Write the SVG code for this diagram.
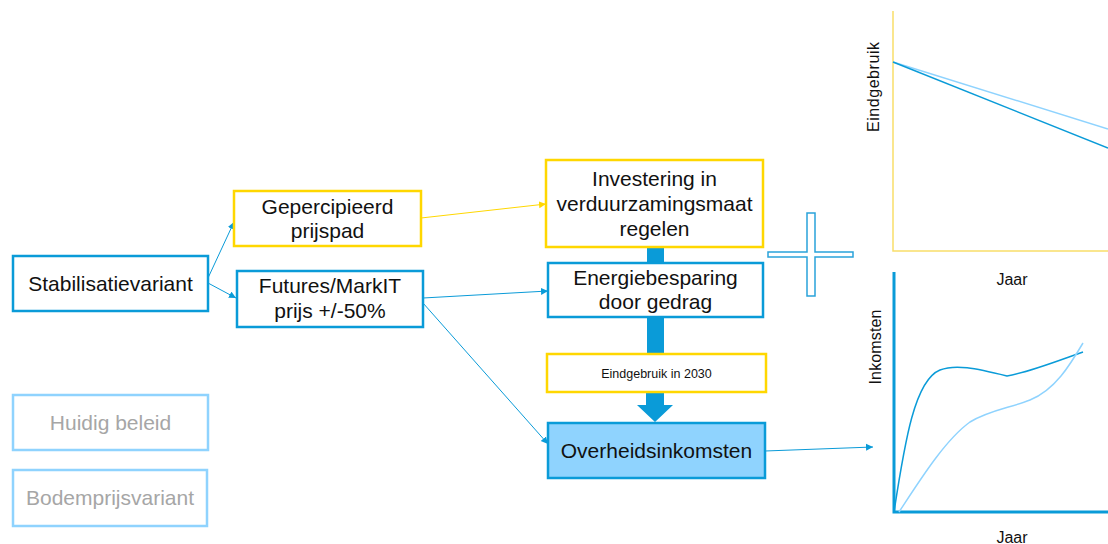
<svg xmlns="http://www.w3.org/2000/svg" width="1108" height="544" viewBox="0 0 1108 544">
<style>
text{font-family:"Liberation Sans",Arial,sans-serif;fill:#111;text-anchor:middle}
.t{font-size:21px}
.g{font-size:21px;fill:#a6a6a6}
.s{font-size:12.5px}
.c{font-size:16px}
.bb{fill:#fff;stroke:#0a9bd8;stroke-width:2.5}
.yb{fill:#fff;stroke:#ffd700;stroke-width:2.5}
.lb{fill:#fff;stroke:#8fd3fe;stroke-width:2.5}
.ln{fill:none;stroke:#0a9bd8;stroke-width:1}
.ly{fill:none;stroke:#ffd700;stroke-width:1}
</style>
<defs>
<marker id="ab" markerWidth="8" markerHeight="8" refX="7" refY="4" orient="auto" markerUnits="userSpaceOnUse"><path d="M0,0.5 L7,4 L0,7.5 Z" fill="#0a9bd8"/></marker>
<marker id="ay" markerWidth="8" markerHeight="8" refX="7" refY="4" orient="auto" markerUnits="userSpaceOnUse"><path d="M0,0.5 L7,4 L0,7.5 Z" fill="#ffd700"/></marker>
</defs>

<g id="connectors">
<line class="ln" x1="208" y1="278" x2="234" y2="222" marker-end="url(#ab)"/>
<line class="ln" x1="208" y1="283" x2="236" y2="298" marker-end="url(#ab)"/>
<line class="ly" x1="421" y1="218" x2="546" y2="204" marker-end="url(#ay)"/>
<line class="ln" x1="423" y1="298" x2="548" y2="291" marker-end="url(#ab)"/>
<line class="ln" x1="423" y1="303" x2="548" y2="444" marker-end="url(#ab)"/>
<line class="ln" x1="765" y1="451" x2="873" y2="447" marker-end="url(#ab)"/>
<rect x="647" y="247" width="17" height="16" fill="#0a9bd8"/>
<rect x="647" y="317" width="17" height="37" fill="#0a9bd8"/>
<path d="M646,392 H664 V405 H673 L655,422 L637,405 H646 Z" fill="#0a9bd8"/>
</g>

<g id="stabilisatievariant"><rect class="bb" x="13" y="256" width="195" height="55"/><text class="t" x="110.5" y="291">Stabilisatievariant</text></g>
<g id="gepercipieerd"><rect class="yb" x="234" y="191" width="187" height="55"/><text class="t" x="327.5" y="214">Gepercipieerd</text><text class="t" x="327.5" y="238">prijspad</text></g>
<g id="futures"><rect class="bb" x="237" y="271" width="186" height="56"/><text class="t" x="330" y="293">Futures/MarkIT</text><text class="t" x="330" y="318">prijs +/-50%</text></g>
<g id="investering"><rect class="yb" x="546" y="160" width="217" height="87"/><text class="t" x="654.5" y="186">Investering in</text><text class="t" x="654.5" y="211">verduurzamingsmaat</text><text class="t" x="654.5" y="236">regelen</text></g>
<g id="energiebesparing"><rect class="bb" x="548" y="263" width="215" height="54"/><text class="t" x="655.5" y="285">Energiebesparing</text><text class="t" x="655.5" y="309">door gedrag</text></g>
<g id="eindgebruik2030"><rect class="yb" x="547" y="354" width="219" height="38"/><text class="s" x="656.5" y="378">Eindgebruik in 2030</text></g>
<g id="overheidsinkomsten"><rect x="548" y="423" width="217" height="55" fill="#8fd3fe" stroke="#0a9bd8" stroke-width="2.5"/><text class="t" x="656.5" y="458">Overheidsinkomsten</text></g>
<g id="huidig"><rect class="lb" x="13" y="395" width="195" height="55"/><text class="g" x="110.5" y="430">Huidig beleid</text></g>
<g id="bodem"><rect class="lb" x="13" y="470" width="194" height="56"/><text class="g" x="110" y="505">Bodemprijsvariant</text></g>

<g id="plus"><path d="M807,213 H815 V252 H853 V257 H815 V296 H807 V257 H768 V252 H807 Z" fill="#fff" stroke="#2aa3da" stroke-width="1.5"/></g>

<g id="chart-eindgebruik">
<path d="M893,11 V251 H1108" fill="none" stroke="#f9de6a" stroke-width="1.5"/>
<line x1="893" y1="62" x2="1108" y2="129" stroke="#8fd3fe" stroke-width="1.5"/>
<line x1="893" y1="62" x2="1108" y2="148" stroke="#0a9bd8" stroke-width="1.5"/>
<text class="c" transform="translate(879,87) rotate(-90)" textLength="90" lengthAdjust="spacing">Eindgebruik</text>
<text class="c" x="1012" y="285">Jaar</text>
</g>

<g id="chart-inkomsten">
<path d="M894,272 V512 H1108" fill="none" stroke="#0a9bd8" stroke-width="3"/>
<path d="M894,512 C905,440 915,380 940,370 C955,364 975,368 1007,376 C1030,372 1060,360 1083,352" fill="none" stroke="#0a9bd8" stroke-width="1.5"/>
<path d="M899,512 C920,480 945,440 970,422 C990,410 1010,408 1030,400 C1055,390 1070,365 1083,343" fill="none" stroke="#8fd3fe" stroke-width="1.5"/>
<text class="c" transform="translate(881,347) rotate(-90)" textLength="75" lengthAdjust="spacing">Inkomsten</text>
<text class="c" x="1012" y="543">Jaar</text>
</g>
</svg>
